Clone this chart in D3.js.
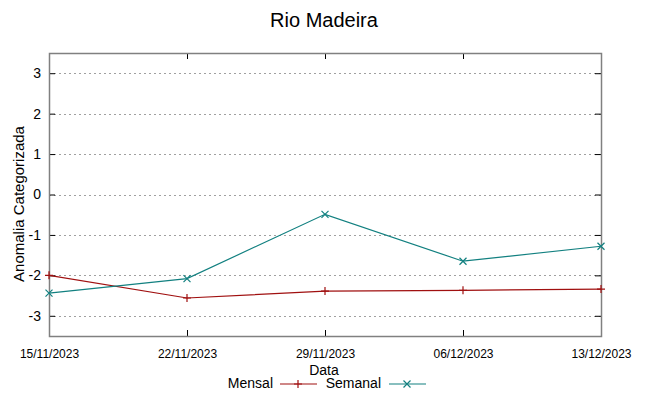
<!DOCTYPE html>
<html><head><meta charset="utf-8">
<script src="https://cdn.jsdelivr.net/npm/d3@7"></script>
<style>body{margin:0;background:#fff}svg{display:block}text{font-family:"Liberation Sans",Arial,sans-serif}</style>
</head><body><svg id="c" width="649" height="396"></svg>
<script>
const dates = ["15/11/2023","22/11/2023","29/11/2023","06/12/2023","13/12/2023"];
const mensal = [-2.0, -2.56, -2.39, -2.37, -2.34];
const semanal = [-2.44, -2.08, -0.49, -1.65, -1.28];
const yTicks = [3,2,1,0,-1,-2,-3];

const svg = d3.select("#c");
const L=49, R=601, T=53, B=336;
const parse = d3.timeParse("%d/%m/%Y");
const xd = dates.map(parse);
const x = d3.scaleTime().domain([xd[0], xd[xd.length-1]]).range([L,R]);
const y = d3.scaleLinear().domain([-3.5,3.5]).range([B,T]);

// grid
svg.append("g").selectAll("line").data(yTicks).join("line")
  .attr("x1",L).attr("x2",R).attr("y1",d=>Math.round(y(d))+0.5).attr("y2",d=>Math.round(y(d))+0.5)
  .attr("stroke","#a0a0a0").attr("stroke-width",1).attr("stroke-dasharray","2,3");

// axes with inward ticks
const yl = svg.append("g").attr("transform",`translate(${L},0)`)
  .call(d3.axisLeft(y).tickValues(yTicks).tickSize(-6).tickPadding(8).tickFormat(d=>String(d)));
const yr = svg.append("g").attr("transform",`translate(${R},0)`)
  .call(d3.axisRight(y).tickValues(yTicks).tickSize(-6).tickFormat(""));
const xb = svg.append("g").attr("transform",`translate(0,${B})`)
  .call(d3.axisBottom(x).tickValues(xd).tickSize(-6).tickPadding(13).tickFormat(d3.timeFormat("%d/%m/%Y")));
const xt = svg.append("g").attr("transform",`translate(0,${T})`)
  .call(d3.axisTop(x).tickValues(xd).tickSize(-6).tickFormat(""));
[yl,yr,xb,xt].forEach(g=>{g.select(".domain").remove();g.selectAll(".tick line").attr("stroke","#000");});
yl.selectAll("text").attr("font-size",14).attr("fill","#000").attr("font-family","Liberation Sans, Arial");
xb.selectAll("text").attr("font-size",12).attr("fill","#000").attr("font-family","Liberation Sans, Arial");

// border
svg.append("rect").attr("x",L+0.5).attr("y",T+0.5).attr("width",R-L).attr("height",B-T)
  .attr("fill","none").attr("stroke","#808080").attr("stroke-width",1.5);

const cM="#a01010", cS="#128080";
const line = d3.line().x((d,i)=>x(xd[i])).y(d=>y(d));
svg.append("path").datum(mensal).attr("d",line).attr("fill","none").attr("stroke",cM).attr("stroke-width",1.2);
svg.append("path").datum(semanal).attr("d",line).attr("fill","none").attr("stroke",cS).attr("stroke-width",1.2);

function plus(g,cx,cy,c){g.append("path").attr("d",`M${cx-4},${cy}H${cx+4}M${cx},${cy-4}V${cy+4}`).attr("stroke",c).attr("stroke-width",1.2).attr("fill","none");}
function cross(g,cx,cy,c){g.append("path").attr("d",`M${cx-3.5},${cy-3.5}L${cx+3.5},${cy+3.5}M${cx-3.5},${cy+3.5}L${cx+3.5},${cy-3.5}`).attr("stroke",c).attr("stroke-width",1.2).attr("fill","none");}
const gm = svg.append("g"), gs = svg.append("g");
mensal.forEach((v,i)=>plus(gm,x(xd[i]),y(v),cM));
semanal.forEach((v,i)=>cross(gs,x(xd[i]),y(v),cS));

// title and labels
svg.append("text").attr("x",324).attr("y",27).attr("text-anchor","middle").attr("font-size",20).text("Rio Madeira");
svg.append("text").attr("x",324).attr("y",375).attr("text-anchor","middle").attr("font-size",14).text("Data");
svg.append("text").attr("transform","translate(24,204) rotate(-90)").attr("text-anchor","middle").attr("font-size",15).text("Anomalia Categorizada");

// legend
svg.append("text").attr("x",273).attr("y",388).attr("text-anchor","end").attr("font-size",14).text("Mensal");
svg.append("line").attr("x1",280).attr("x2",317).attr("y1",384).attr("y2",384).attr("stroke",cM).attr("stroke-width",1.2);
plus(svg,298,384,cM);
svg.append("text").attr("x",381).attr("y",388).attr("text-anchor","end").attr("font-size",14).text("Semanal");
svg.append("line").attr("x1",389).attr("x2",426).attr("y1",384).attr("y2",384).attr("stroke",cS).attr("stroke-width",1.2);
cross(svg,407,384,cS);
</script></body></html>
